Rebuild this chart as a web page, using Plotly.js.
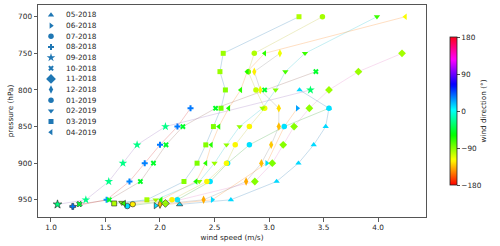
<!DOCTYPE html>
<html><head><meta charset="utf-8">
<script src="https://cdn.plot.ly/plotly-3.0.1.min.js"></script>
<style>html,body{margin:0;padding:0;background:#fff;}#chart{width:500px;height:246px;}</style>
</head><body><div id="chart"></div>
<script>
// ---- data ----
const months = ['05-2018','06-2018','07-2018','08-2018','09-2018','10-2018','11-2018','12-2018','01-2019','02-2019','03-2019','04-2019'];
const symbols = ['triangle-up','triangle-right','circle','cross','star','x','diamond','diamond-tall','circle','triangle-down','square','triangle-left'];
const levels = [700,750,775,800,825,850,875,900,925,950];
const surfP = [956.3,958,958.6,959,956.3,955.9,955,956,956,954,955,955];
// speeds at levels, last value = surface
const spd0518 = [null,null,null,3.28,3.55,3.52,3.41,3.27,3.07,2.65,2.18];
const spd0618 = [null,null,null,null,3.26,3.14,null,2.98,null,2.48,1.96];
const spd0718 = [null,null,null,null,3.55,3.14,2.82,2.62,2.46,2.16,1.70];
const spd0818 = [null,null,null,null,2.28,2.16,2.00,1.86,1.72,1.51,1.20];
const spd0918 = [null,null,null,3.38,null,2.05,1.79,1.66,1.53,1.32,1.06];
const spd1018 = [null,null,3.43,2.96,2.51,2.21,2.055,1.94,1.82,1.535,1.26];
const spd1118 = [null,4.22,3.82,3.55,3.37,3.23,3.13,3.03,2.87,null,2.05];
const spd1218 = [null,3.10,2.865,2.92,3.09,3.09,3.02,2.93,2.79,2.40,2.00];
const spd0119 = [3.49,2.865,2.81,2.88,2.96,2.82,2.69,2.61,2.43,2.11,1.75];
const spd0219 = [3.99,3.33,3.15,3.06,2.94,2.73,2.61,2.50,2.36,1.96,1.65];
const spd0319 = [3.275,2.58,2.55,2.60,2.56,2.49,2.42,2.34,2.22,1.88,1.58];
const spd0419 = [4.25,2.96,2.80,2.74,2.63,2.54,2.47,2.42,2.33,2.01,1.67];
// wind direction (deg) at levels, last value = surface
const dir0518 = [null,null,null,12,12,12,12,12,12,12,12];
const dir0618 = [null,null,null,null,25,12,null,10,null,12,10];
const dir0718 = [null,null,null,null,10,10,10,8,10,8,10];
const dir0818 = [null,null,null,null,35,35,35,33,32,25,35];
const dir0918 = [null,null,null,-33,null,-26,-26,-26,-25,-25,-28];
const dir1018 = [null,null,-48,-48,-50,-48,-48,-48,-50,-48,-45];
const dir1118 = [null,-97,-95,-95,-92,-90,-90,-88,-90,null,-95];
const dir1218 = [null,-115,-123,-120,-127,-135,-132,-135,-139,-139,-135];
const dir0119 = [-97,-100,-90,-105,-115,-120,-120,-118,-120,-122,-122];
const dir0219 = [-72,-72,-75,-90,-95,-93,-93,-95,-90,-95,-95];
const dir0319 = [-100,-95,-95,-90,-85,-88,-90,-88,-90,-97,-100];
const dir0419 = [-118,-68,-65,-68,-65,-68,-67,-68,-65,-65,-70];
const dirTicks = [-180,-90,0,90,180];
const xTicks = [1.0,1.5,2.0,2.5,3.0,3.5,4.0];

// ---- styling ----
const speeds = [spd0518,spd0618,spd0718,spd0818,spd0918,spd1018,spd1118,spd1218,spd0119,spd0219,spd0319,spd0419];
const dirs = [dir0518,dir0618,dir0718,dir0818,dir0918,dir1018,dir1118,dir1218,dir0119,dir0219,dir0319,dir0419];
const cycle = ['31,119,180','255,127,14','44,160,44','214,39,40','148,103,189','140,86,75','227,119,194','127,127,127','188,189,34','23,190,207'];
const sizes = {'triangle-up':5.5,'triangle-right':5.5,'circle':5.5,'cross':5,'star':6.5,'x':5,'diamond':6,'diamond-tall':6,'triangle-down':5.5,'square':5,'triangle-left':5.5};
const hsv = [[0,'rgb(255,0,0)'],[0.15873,'rgb(255,239,0)'],[0.174603,'rgb(247,255,0)'],[0.333333,'rgb(8,255,0)'],[0.349206,'rgb(0,255,16)'],[0.507937,'rgb(0,255,255)'],[0.666667,'rgb(0,16,255)'],[0.68254,'rgb(8,0,255)'],[0.84127,'rgb(247,0,255)'],[0.857143,'rgb(255,0,239)'],[1,'rgb(255,0,24)']];
const FONT = 'DejaVu Sans';
const FS = 7.3;

const traces = [];
months.forEach((m,i)=>{
  const ys = levels.concat([surfP[i]]);
  const x=[],y=[],c=[],lw=[];
  speeds[i].forEach((v,k)=>{
    if(v===null) return;
    x.push(v); y.push(ys[k]); c.push(dirs[i][k]);
    lw.push(k===ys.length-1?0.7:0);
  });
  traces.push({type:'scatter',mode:'lines+markers',x:x,y:y,showlegend:false,hoverinfo:'skip',
    line:{color:'rgba('+cycle[i%10]+',0.25)',width:1},
    marker:{symbol:symbols[i],size:sizes[symbols[i]],color:c,coloraxis:'coloraxis',
      line:{width:lw,color:'rgba(30,30,30,0.85)'}}});
});

// manual legend (markers on an overlay axis spanning the plot area, fraction coords)
const L=38,R=426,T=5,B=217,W=R-L,H=B-T;
const annotations=[];
months.forEach((m,i)=>{
  const py = 15 + 10.65*i;
  const yy=(B-py)/H;
  traces.push({type:'scatter',mode:'markers',x:[(51-L)/W],y:[yy],xaxis:'x2',yaxis:'y2',showlegend:false,hoverinfo:'skip',
    marker:{symbol:symbols[i],size:sizes[symbols[i]]+(symbols[i]==='diamond'?1.5:0),color:'#1f77b4'}});
  annotations.push({xref:'paper',yref:'paper',x:(64-L)/W,y:yy,xanchor:'left',yanchor:'middle',showarrow:false,
    text:m,font:{family:FONT,size:FS,color:'#262626'}});
});

const layout={
  width:500,height:246,margin:{l:L,r:500-R,t:T,b:246-B},
  paper_bgcolor:'#fff',plot_bgcolor:'#fff',
  font:{family:FONT,size:FS,color:'#262626'},
  showlegend:false,
  xaxis:{range:[0.881,4.44],tickvals:xTicks,ticktext:xTicks.map(v=>v.toFixed(1)),ticks:'outside',ticklen:3.5,tickwidth:0.8,tickcolor:'#333',
    showline:true,linecolor:'#555',linewidth:1,mirror:true,showgrid:false,zeroline:false,
    tickfont:{family:FONT,size:FS,color:'#262626'},title:{text:'wind speed (m/s)',font:{family:FONT,size:FS,color:'#262626'},standoff:3}},
  yaxis:{range:[973.5,684],tickvals:[700,750,800,850,900,950],ticks:'outside',ticklen:3.5,tickwidth:0.8,tickcolor:'#333',
    showline:true,linecolor:'#555',linewidth:1,mirror:true,showgrid:false,zeroline:false,
    tickfont:{family:FONT,size:FS,color:'#262626'},title:{text:'pressure (hPa)',font:{family:FONT,size:FS,color:'#262626'},standoff:3}},
  xaxis2:{overlaying:'x',range:[0,1],visible:false,fixedrange:true},
  yaxis2:{overlaying:'y',range:[0,1],visible:false,fixedrange:true},
  coloraxis:{colorscale:hsv,cmin:-180,cmax:180,
    colorbar:{x:(450-L)/W,xanchor:'left',xref:'paper',y:0.5,yanchor:'middle',len:148,lenmode:'pixels',thickness:7,thicknessmode:'pixels',
      outlinewidth:0.8,outlinecolor:'#222',tickvals:dirTicks,ticks:'outside',ticklen:3,tickwidth:0.8,tickcolor:'#222',
      tickfont:{family:FONT,size:FS,color:'#262626'},xpad:0,ypad:0,
      title:{text:'wind direction (°)',side:'right',font:{family:FONT,size:FS,color:'#262626'}}}},
  annotations:annotations
};
Plotly.newPlot('chart',traces,layout,{staticPlot:true,displayModeBar:false});
</script></body></html>
